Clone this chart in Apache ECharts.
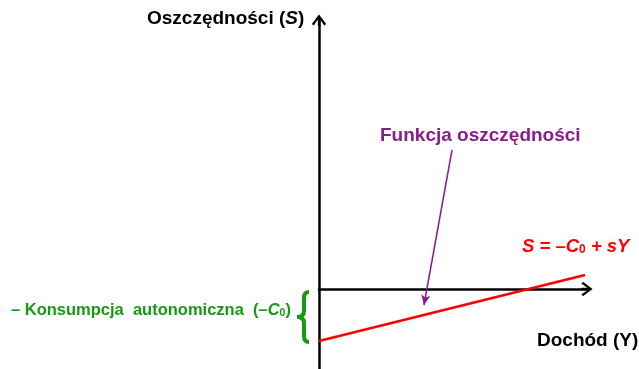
<!DOCTYPE html>
<html>
<head>
<meta charset="utf-8">
<script src="https://cdn.jsdelivr.net/npm/echarts@6/dist/echarts.min.js"></script>
<style>
html,body{margin:0;padding:0;background:#fff;}
#myChart{width:639px;height:369px;}
</style>
</head>
<body>
<div id="myChart"></div>
<script type="text/javascript">
// dane wykresu
var incomeY = [0, 266];
var savingsS = [-52, 14];
var pointerFrom = [133, 139];
var pointerTo = [105, -16];
var braceSpan = [0, -52];

// grot osi: otwarta strzałka z trzonem
var arrowPath = 'path://M7.5,0 L15,10 L13,11.5 L7.5,3.3 L2,11.5 L0,10 Z M6.25,1 L8.75,1 L8.75,11.5 L6.25,11.5 Z';
var font = 'Liberation Sans, Arial, sans-serif';
var purple = '#8A1B8C';
var green = '#159A15';

var option = {
	animation: false,
	grid: { left: 319, right: 52, top: 20, bottom: 0 },
	xAxis: {
		type: 'value', min: 0, max: 268,
		axisLine: { onZero: true, symbol: ['none', arrowPath], symbolSize: [16, 11], lineStyle: { color: '#000', width: 2.5 } },
		axisTick: { show: false }, axisLabel: { show: false }, splitLine: { show: false }
	},
	yAxis: {
		type: 'value', min: -80, max: 269,
		axisLine: { symbol: ['none', arrowPath], symbolSize: [16, 11], lineStyle: { color: '#000', width: 2.5 } },
		axisTick: { show: false }, axisLabel: { show: false }, splitLine: { show: false }
	},
	graphic: [
		{
			type: 'text', left: 147, top: 9,
			style: {
				text: '{b|Oszczędności (}{i|S}{b|)}',
				rich: {
					b: { fontFamily: font, fontWeight: 'bold', fontSize: 19, fill: '#000' },
					i: { fontFamily: font, fontWeight: 'bold', fontStyle: 'italic', fontSize: 19, fill: '#000' }
				}
			}
		},
		{
			type: 'text', left: 537, top: 331,
			style: { text: 'Dochód (Y)', fontFamily: font, fontWeight: 'bold', fontSize: 19, fill: '#000' }
		},
		{
			type: 'text', left: 380, top: 126,
			style: { text: 'Funkcja oszczędności', fontFamily: font, fontWeight: 'bold', fontSize: 19, fill: purple }
		},
		{
			type: 'text', left: 522, top: 237,
			style: {
				text: '{i|S = \u2013C}{s|0}{i| + sY}',
				rich: {
					i: { fontFamily: font, fontWeight: 'bold', fontStyle: 'italic', fontSize: 18.5, fill: '#FF0000' },
					s: { fontFamily: font, fontWeight: 'bold', fontSize: 12, fill: '#FF0000', verticalAlign: 'bottom' }
				}
			}
		},
		{
			type: 'text', left: 11, top: 302,
			style: {
				text: '{t|\u2013 Konsumpcja  autonomiczna  (\u2013}{ti|C}{s|0}{t|)}',
				rich: {
					t: { fontFamily: font, fontWeight: 'bold', fontSize: 16.5, fill: green },
					ti: { fontFamily: font, fontWeight: 'bold', fontStyle: 'italic', fontSize: 16.5, fill: green },
					s: { fontFamily: font, fontWeight: 'bold', fontSize: 10.5, fill: green, verticalAlign: 'bottom' }
				}
			}
		}
	],
	series: [
		{
			name: 'S',
			type: 'line',
			data: incomeY.map(function (x, i) { return [x, savingsS[i]]; }),
			showSymbol: false,
			lineStyle: { color: '#FF0000', width: 2.5 },
			markLine: {
				silent: true,
				symbol: ['none', 'arrow'],
				symbolSize: [7, 10],
				label: { show: false },
				lineStyle: { color: purple, width: 1.5, type: 'solid' },
				data: [[{ coord: pointerFrom }, { coord: pointerTo }]]
			}
		},
		{
			name: 'klamra',
			type: 'custom',
			data: [braceSpan],
			renderItem: function (params, api) {
				var top = api.coord([0, api.value(0)]);
				var bot = api.coord([0, api.value(1)]);
				var x = top[0] - 15;
				var y0 = top[1] + 3, y1 = bot[1] + 1, ym = (y0 + y1) / 2;
				var d = 'M' + (x + 5) + ',' + y0 +
					' Q' + x + ',' + y0 + ' ' + x + ',' + (y0 + 6) +
					' L' + x + ',' + (ym - 6) +
					' Q' + x + ',' + ym + ' ' + (x - 7) + ',' + ym +
					' Q' + x + ',' + ym + ' ' + x + ',' + (ym + 6) +
					' L' + x + ',' + (y1 - 6) +
					' Q' + x + ',' + y1 + ' ' + (x + 5) + ',' + y1;
				return {
					type: 'path',
					shape: { pathData: d },
					style: { stroke: green, lineWidth: 4, fill: 'none' }
				};
			}
		}
	]
};
echarts.init(document.getElementById('myChart')).setOption(option);
</script>
</body>
</html>
